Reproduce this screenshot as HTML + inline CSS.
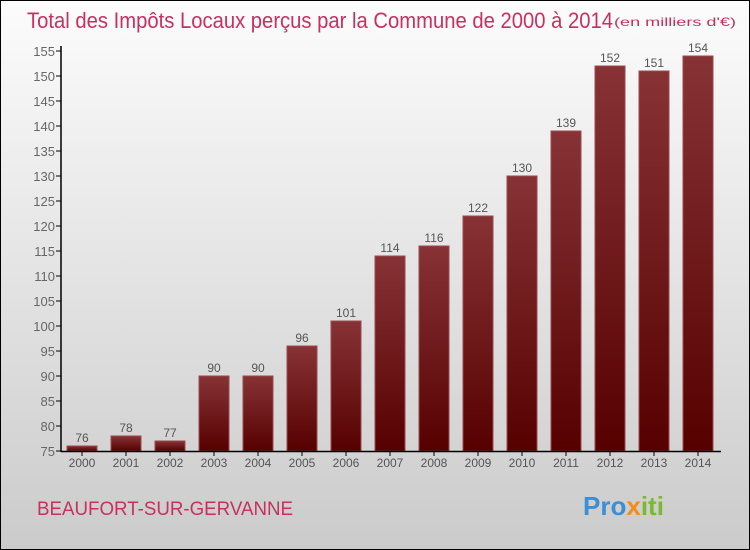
<!DOCTYPE html>
<html><head><meta charset="utf-8"><style>
body{margin:0}
#c{width:748px;height:548px;border:1px solid #000;background:linear-gradient(#fcfcfc,#cbcbcb);position:relative;font-family:"Liberation Sans",sans-serif;overflow:hidden}
</style></head><body>
<div id="c">
<svg id="s" width="748" height="548" style="position:absolute;left:0;top:0">
<defs><linearGradient id="g" x1="0" y1="0" x2="0" y2="1"><stop offset="0" stop-color="#873336"/><stop offset="1" stop-color="#560000"/></linearGradient></defs>
<text x="26" y="27" font-size="22" fill="#c8305f" textLength="586" lengthAdjust="spacingAndGlyphs">Total des Impôts Locaux perçus par la Commune de 2000 à 2014</text>
<text x="613" y="25" font-size="12" fill="#c8305f" textLength="122" lengthAdjust="spacingAndGlyphs">(en milliers d'€)</text>
<text x="36" y="514" font-size="19" fill="#c8305f" textLength="256" lengthAdjust="spacingAndGlyphs">BEAUFORT-SUR-GERVANNE</text>
<text x="582" y="514" font-size="26" font-weight="bold"><tspan fill="#3a8fd6">Pro</tspan><tspan fill="#f28c1a">x</tspan><tspan fill="#7bb92f">iti</tspan></text>
</svg>
</div>
<script>
const years=["2000","2001","2002","2003","2004","2005","2006","2007","2008","2009","2010","2011","2012","2013","2014"];
const values=[76,78,77,90,90,96,101,114,116,122,130,139,152,151,154];
const ticks=[75,80,85,90,95,100,105,110,115,120,125,130,135,140,145,150,155];
const s=document.getElementById('s');const NS='http://www.w3.org/2000/svg';
const y=v=>450-(v-75)*5, x=i=>81+i*44;
function mk(t,a){const e=document.createElementNS(NS,t);for(const k in a)e.setAttribute(k,a[k]);s.appendChild(e);return e;}
ticks.forEach(t=>{
 const l=mk('line',{x1:55,x2:60,y1:y(t),y2:y(t),stroke:'#000'});
 
 
 const tx=mk('text',{x:54,y:y(t)+5,'text-anchor':'end','font-size':13,fill:'#666'});tx.textContent=t;
 
 
});
values.forEach((v,i)=>{
 const r=mk('rect',{x:x(i)-15,y:y(v),width:30,height:450-y(v),fill:'url(#g)',stroke:'#9a4a4c','stroke-width':1});
 
 
 const lb=mk('text',{x:x(i),y:y(v)-4,'text-anchor':'middle','font-size':12,fill:'#555'});lb.textContent=v;
 
 
 const tk=mk('line',{x1:x(i),x2:x(i),y1:450,y2:455,stroke:'#000'});
 
 
 const xl=mk('text',{x:x(i),y:466,'text-anchor':'middle','font-size':12,fill:'#555'});xl.textContent=years[i];
 
 
});
const ya=mk('line',{x1:60,x2:60,y1:45,y2:451,stroke:'#000','stroke-width':1.5});


const xa=mk('line',{x1:60,x2:720,y1:450.5,y2:450.5,stroke:'#000','stroke-width':1.5});


</script>
</body></html>
